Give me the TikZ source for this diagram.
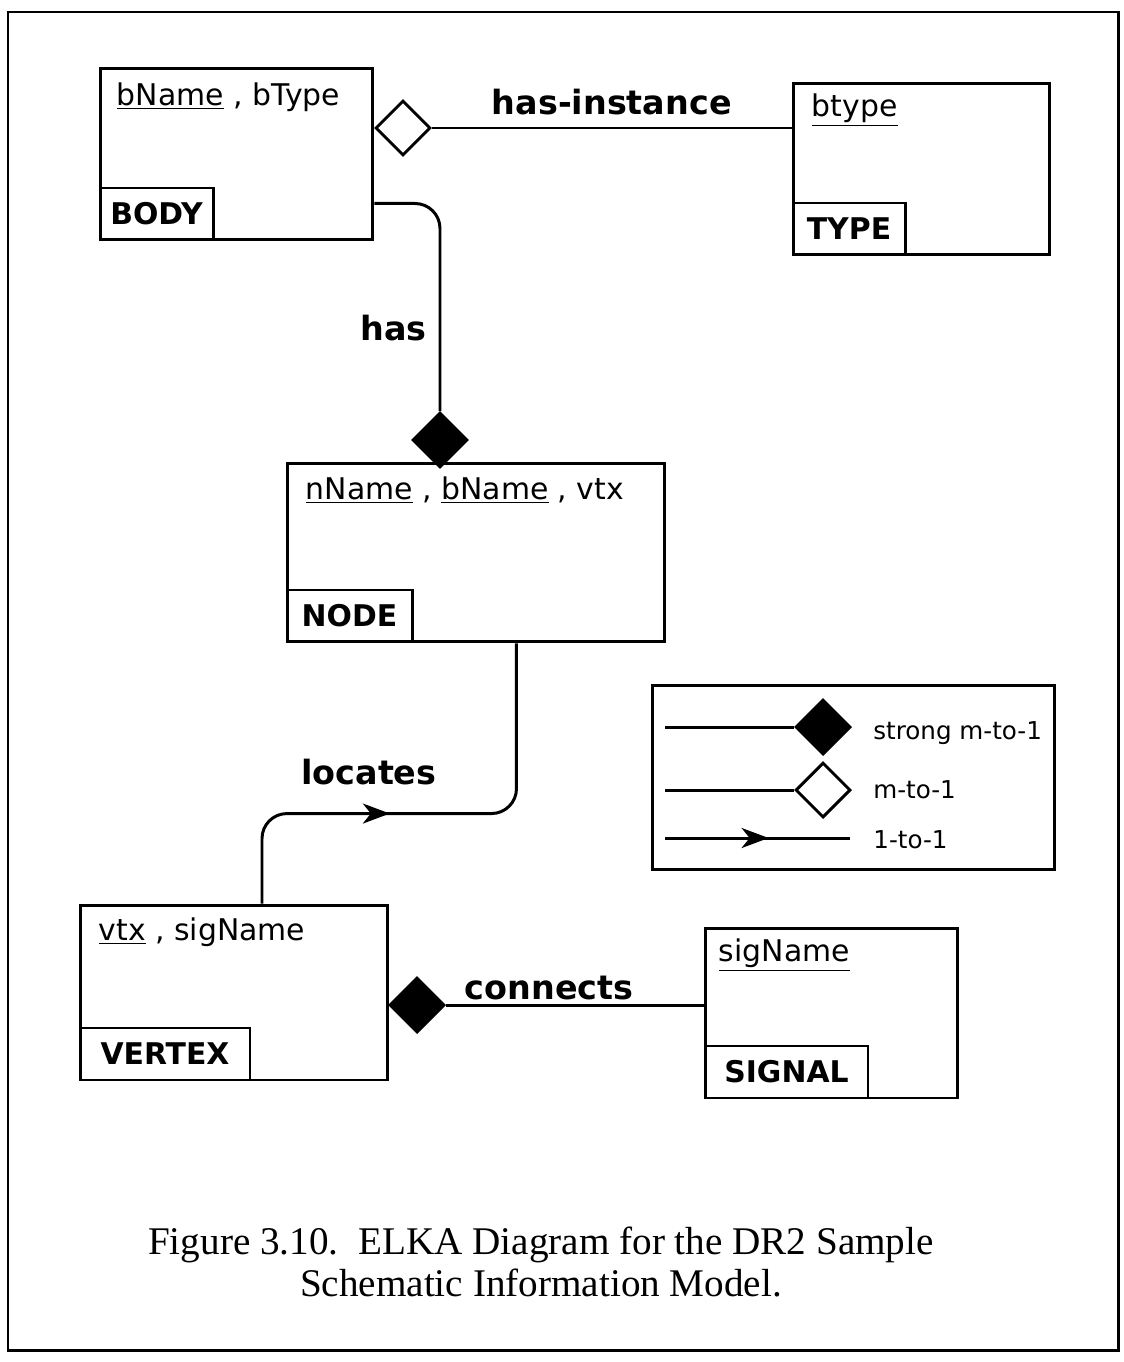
\documentclass[tikz,border=0pt]{standalone}
\usepackage{fontspec}
\setmainfont{DejaVu Sans}
\newfontfamily\capfont{Liberation Serif}
\usetikzlibrary{arrows.meta, positioning, shapes.geometric, decorations.markings}

\begin{document}
\begin{tikzpicture}[
      x=0.02cm, y=-0.02cm,
      >=Stealth,
      entity/.style={draw, line width=1.7pt, inner sep=0pt},
      tab/.style={draw, line width=1.7pt, minimum height=10.4mm, inner sep=0pt, font=\fontsize{17}{20}\selectfont\bfseries},
      attr/.style={inner sep=0pt, font=\fontsize{17}{20}\selectfont},
      rel/.style={inner sep=1pt, font=\fontsize{19}{22}\selectfont\bfseries},
      link/.style={line width=1.7pt},
      strongd/.style={diamond, draw, fill=black, line width=1.7pt, inner sep=0pt, minimum size=11mm},
      weakd/.style={diamond, draw, fill=white, line width=1.7pt, inner sep=0pt, minimum size=11mm},
      legtext/.style={anchor=west, inner sep=0pt, font=\fontsize{14}{16}\selectfont},
      midarrow/.style={decoration={markings, mark=at position #1 with {\arrow{Stealth[length=5.4mm, width=4mm, inset=1.6mm]}}}, postaction=decorate}
    ]

    \useasboundingbox (0,0) rectangle (1124,1362);
    \draw[line width=1.7pt] (8,12) rectangle (1118,1350);

    % entities
    \node[entity, minimum width=54.6mm, minimum height=34.4mm] (body) at (236.5,154) {};
    \node[tab, minimum width=22.6mm, above right=0pt of body.south west] (bodytab) {BODY};
    \node[attr, below right=3.2mm and 3.6mm of body.north west] (bodyattr) {\underline{bName} , bType};

    \node[entity, minimum width=51.4mm, minimum height=34.4mm] (type) at (921.5,169) {};
    \node[tab, minimum width=22.4mm, above right=0pt of type.south west] (typetab) {TYPE};
    \node[attr, below right=2.4mm and 4mm of type.north west] (typeattr) {\underline{btype}};

    \node[entity, minimum width=75.6mm, minimum height=35.8mm] (netnode) at (476,552.5) {};
    \node[tab, minimum width=25mm, above right=0pt of netnode.south west] (nodetab) {NODE};
    \node[attr, below right=3mm and 4mm of netnode.north west] (nodeattr) {\underline{nName} , \underline{bName} , vtx};

    \node[entity, minimum width=61.6mm, minimum height=35mm] (vertex) at (234,992.5) {};
    \node[tab, minimum width=34mm, above right=0pt of vertex.south west] (vertextab) {VERTEX};
    \node[attr, below right=2.8mm and 4mm of vertex.north west] (vertexattr) {\underline{vtx} , sigName};

    \node[entity, minimum width=50.6mm, minimum height=34mm] (signal) at (831.5,1013) {};
    \node[tab, minimum width=32.6mm, above right=0pt of signal.south west] (signaltab) {SIGNAL};
    \node[attr, below right=2.4mm and 3mm of signal.north west] (signalattr) {\underline{sigName}};

    % relationships
    \node[weakd] (hasinst) at (403,128) {};
    \draw[link] (hasinst.east) -- node[rel, above=2mm] {has-instance} (hasinst.east -| type.west);

    \node[strongd] (has) at (440,440) {};
    \draw[link, rounded corners=5mm] ([yshift=7.6mm]body.south east) -| node[rel, left=2mm, pos=0.8] {has} (has.north);

    \draw[link, rounded corners=5mm, midarrow=0.42] ([xshift=5.6mm]vertex.north) -- ++(0,18mm) -| node[rel, above=5mm, pos=0.21] {locates} ([xshift=-30mm]netnode.south east);

    \node[strongd] (conn) at (417,1005) {};
    \draw[link] (conn.east) -- node[rel, above=0.3mm, pos=0.4] {connects} (conn.east -| signal.west);

    % legend
    \node[entity, minimum width=80.6mm, minimum height=37mm] (legend) at (853.5,777.5) {};
    \node[strongd] (lgsd) at (823,727) {};
    \coordinate (lgs) at (665,727);
    \draw[link] (lgs) -- (lgsd.west);
    \node[legtext] (lgst) at (873,733) {strong m-to-1};

    \node[weakd] (lgwd) at (823,790) {};
    \coordinate (lgw) at (665,790);
    \draw[link] (lgw) -- (lgwd.west);
    \node[legtext] (lgwt) at (873,790) {m-to-1};

    \coordinate (lgo) at (665,838);
    \coordinate (lgoe) at (850,838);
    \draw[link, midarrow=0.56] (lgo) -- (lgoe);
    \node[legtext] (lgot) at (873,840) {1-to-1};

    % caption
    \node[font=\capfont\fontsize{22.3}{23.5}\selectfont, align=center] (caption) at (541,1262) {Figure 3.10.\ \ ELKA Diagram for the DR2 Sample\\Schematic Information Model.};

  \end{tikzpicture}
\end{document}
